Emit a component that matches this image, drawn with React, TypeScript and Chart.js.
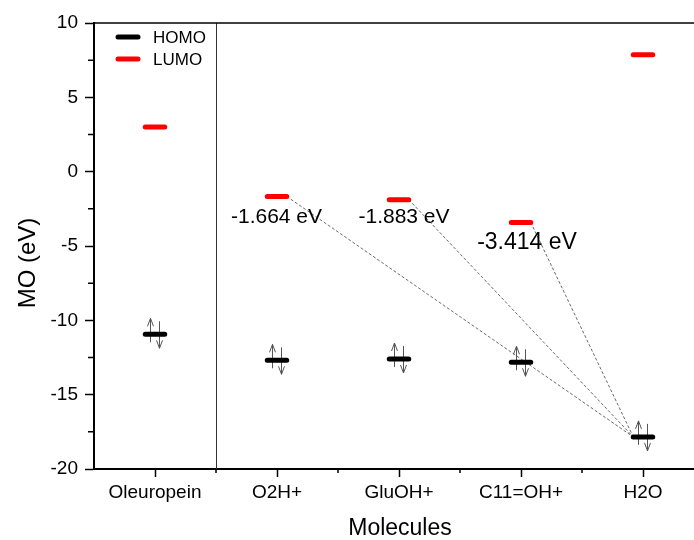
import React, { useEffect, useRef } from "react";
import { Chart, registerables } from "chart.js";

Chart.register(...registerables);

const categories = ["Oleuropein", "O2H+", "GluOH+", "C11=OH+", "H2O"];
const homo = [-10.94, -12.69, -12.6, -12.82, -17.84];
const lumo = [3.0, -1.664, -1.883, -3.414, 7.87];
const yTicks = [-20, -15, -10, -5, 0, 5, 10];
const yMinorTicks = [-17.5, -12.5, -7.5, -2.5, 2.5, 7.5];
const xMinorTicks = [0.5, 1.5, 2.5, 3.5];
const gapFrom = [1, 2, 3]; // LUMO of these molecules connected to HOMO of H2O
const gapTo = 4;
const separatorAt = 0.5;

const FONT = "'Liberation Sans', Arial, sans-serif";
const HALF = 0.08;
// style: label offsets in pixels relative to the LUMO level
const labelStyle = [
  { dx: -0.5, dy: 21, size: 21 },
  { dx: 5, dy: 17.5, size: 21 },
  { dx: 6, dy: 20.5, size: 23 },
];

function levelData(vals: number[]) {
  const out: { x: number; y: number | null }[] = [];
  vals.forEach((v, i) => {
    out.push({ x: i - HALF, y: v }, { x: i + HALF, y: v }, { x: i + HALF, y: null });
  });
  return out;
}

function connectorData() {
  const out: { x: number; y: number | null }[] = [];
  gapFrom.forEach((i) => {
    out.push({ x: i + HALF, y: lumo[i] }, { x: gapTo - HALF, y: homo[gapTo] }, { x: gapTo - HALF, y: null });
  });
  return out;
}

const decorPlugin = {
  id: "decor",
  beforeDatasetsDraw(chart: any) {
    const { ctx, chartArea, scales } = chart;
    const xs = scales.x;
    const ys = scales.y;
    ctx.save();
    // separator
    ctx.strokeStyle = "#333";
    ctx.lineWidth = 1;
    const sx = Math.round(xs.getPixelForValue(separatorAt)) + 0.5;
    ctx.beginPath();
    ctx.moveTo(sx, chartArea.top);
    ctx.lineTo(sx, chartArea.bottom);
    ctx.stroke();
    // arrows (electron pairs)
    ctx.strokeStyle = "#555";
    ctx.lineWidth = 1;
    homo.forEach((v, i) => {
      const px = xs.getPixelForValue(i);
      const py = ys.getPixelForValue(v);
      const ux = Math.round(px - 5) + 0.5;
      const dx = Math.round(px + 4) + 0.5;
      ctx.beginPath();
      ctx.moveTo(ux, py + 8);
      ctx.lineTo(ux, py - 16);
      ctx.moveTo(ux - 3, py - 8);
      ctx.lineTo(ux, py - 16);
      ctx.lineTo(ux + 3, py - 8);
      ctx.moveTo(dx, py - 13);
      ctx.lineTo(dx, py + 14);
      ctx.moveTo(dx - 3, py + 6);
      ctx.lineTo(dx, py + 14);
      ctx.lineTo(dx + 3, py + 6);
      ctx.stroke();
    });
    ctx.restore();
  },
  afterDraw(chart: any) {
    const { ctx, chartArea, scales } = chart;
    const xs = scales.x;
    const ys = scales.y;
    ctx.save();
    // top border
    ctx.strokeStyle = "#000";
    ctx.lineWidth = 1.5;
    ctx.beginPath();
    ctx.moveTo(chartArea.left, chartArea.top);
    ctx.lineTo(chartArea.right, chartArea.top);
    ctx.stroke();
    // minor ticks
    ctx.lineWidth = 1.5;
    ctx.beginPath();
    yMinorTicks.forEach((v) => {
      const py = ys.getPixelForValue(v);
      ctx.moveTo(chartArea.left, py);
      ctx.lineTo(chartArea.left - 6, py);
    });
    xMinorTicks.forEach((v) => {
      const px = xs.getPixelForValue(v);
      ctx.moveTo(px, chartArea.bottom);
      ctx.lineTo(px, chartArea.bottom + 4);
    });
    ctx.stroke();
    // gap labels
    ctx.fillStyle = "#000";
    ctx.textAlign = "center";
    ctx.textBaseline = "middle";
    gapFrom.forEach((i, k) => {
      const st = labelStyle[k];
      ctx.font = `${st.size}px ${FONT}`;
      const px = xs.getPixelForValue(i) + st.dx;
      const py = ys.getPixelForValue(lumo[i]) + st.dy;
      ctx.fillText(`${lumo[i].toFixed(3)} eV`, px, py);
    });
    // legend
    const items = [
      { label: "HOMO", color: "#000", y: 37 },
      { label: "LUMO", color: "#ff0000", y: 59 },
    ];
    items.forEach((it) => {
      ctx.strokeStyle = it.color;
      ctx.lineWidth = 5;
      ctx.lineCap = "round";
      ctx.beginPath();
      ctx.moveTo(118, it.y);
      ctx.lineTo(138, it.y);
      ctx.stroke();
      ctx.fillStyle = "#000";
      ctx.font = `17px ${FONT}`;
      ctx.textAlign = "left";
      ctx.textBaseline = "middle";
      ctx.fillText(it.label, 153, it.y + 1);
    });
    // axis titles
    ctx.font = `23px ${FONT}`;
    ctx.textAlign = "center";
    ctx.textBaseline = "alphabetic";
    ctx.fillText("Molecules", 400, 535);
    ctx.save();
    ctx.translate(35, 263);
    ctx.rotate(-Math.PI / 2);
    ctx.font = `24px ${FONT}`;
    ctx.fillText("MO (eV)", 0, 0);
    ctx.restore();
    ctx.restore();
  },
};

export default function App() {
  const ref = useRef<HTMLCanvasElement>(null);
  useEffect(() => {
    if (!ref.current) return;
    const chart = new Chart(ref.current, {
      type: "scatter",
      data: {
        datasets: [
          {
            label: "HOMO",
            data: levelData(homo),
            showLine: true,
            borderColor: "#000",
            backgroundColor: "#000",
            borderWidth: 5,
            borderCapStyle: "round",
            pointRadius: 0,
            spanGaps: false,
          },
          {
            label: "LUMO",
            data: levelData(lumo),
            showLine: true,
            borderColor: "#ff0000",
            backgroundColor: "#ff0000",
            borderWidth: 5,
            borderCapStyle: "round",
            pointRadius: 0,
            spanGaps: false,
          },
          {
            label: "gap",
            data: connectorData(),
            showLine: true,
            borderColor: "#444",
            borderWidth: 0.8,
            borderDash: [3, 2],
            pointRadius: 0,
            spanGaps: false,
          },
        ] as any,
      },
      options: {
        responsive: false,
        animation: false,
        layout: { padding: { left: 0, right: 0, top: 23, bottom: 0 } },
        plugins: { legend: { display: false }, tooltip: { enabled: false } },
        scales: {
          x: {
            type: "linear",
            min: -0.5,
            max: 4.418,
            afterBuildTicks: (s: any) => {
              s.ticks = categories.map((_, i) => ({ value: i }));
            },
            afterFit: (s: any) => {
              s.height = 71;
            },
            ticks: {
              callback: (v: any) => categories[v] ?? "",
              color: "#000",
              font: { family: FONT, size: 19 },
              padding: 4,
              maxRotation: 0,
              autoSkip: false,
            },
            grid: { display: true, drawOnChartArea: false, drawTicks: true, tickLength: 8, tickWidth: 1.5, tickColor: "#000" },
            border: { display: true, color: "#000", width: 2 },
          },
          y: {
            type: "linear",
            min: -20,
            max: 10,
            afterBuildTicks: (s: any) => {
              s.ticks = yTicks.map((v) => ({ value: v }));
            },
            afterFit: (s: any) => {
              s.width = 94;
            },
            ticks: {
              color: "#000",
              font: { family: FONT, size: 19 },
              padding: 7,
            },
            grid: { display: true, drawOnChartArea: false, drawTicks: true, tickLength: 9, tickWidth: 1.5, tickColor: "#000" },
            border: { display: true, color: "#000", width: 2 },
          },
        },
      },
      plugins: [decorPlugin],
    });
    return () => chart.destroy();
  }, []);
  return (
    <div style={{ position: "fixed", left: 0, top: 0, width: 694, height: 540, background: "#fff" }}>
      <canvas ref={ref} width={694} height={540} style={{ display: "block" }} />
    </div>
  );
}
